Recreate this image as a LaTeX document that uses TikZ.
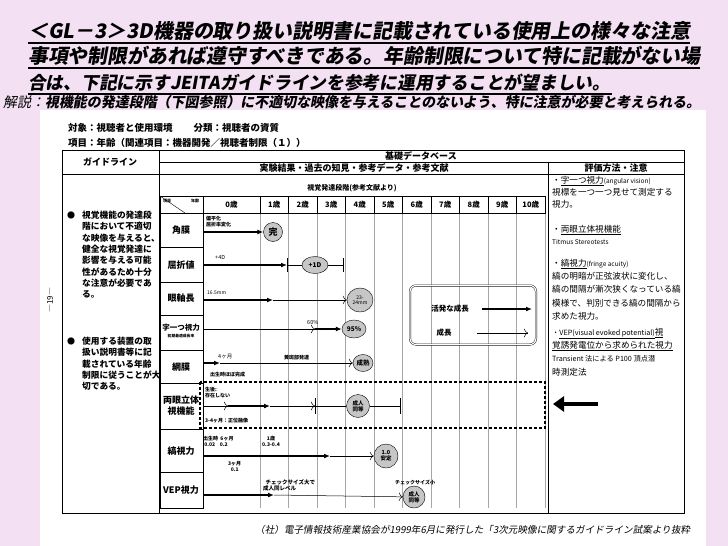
\documentclass[tikz,border=0pt]{standalone}
\usepackage{fontspec}
\setmainfont{Noto Sans CJK JP}
\newfontfamily\tit{Noto Sans CJK JP}[FakeSlant=0.18]
\usetikzlibrary{shapes.geometric,arrows.meta}
\definecolor{bgpink}{HTML}{F3E1F3}
\begin{document}
\begin{tikzpicture}[x=1pt,y=-1pt,
  tk/.style={line width=1.6pt,-{Latex[length=6pt,width=5pt]}},
  tn/.style={line width=0.5pt,-{To[length=4pt]}},
  bub/.style={ellipse,draw,fill=gray!45,inner sep=0.3pt,align=center,font=\fontsize{6.5}{6.5}\selectfont\bfseries},
  sm/.style={inner sep=0,anchor=west,font=\fontsize{5.5}{6}\selectfont},
  lab/.style={inner sep=0,align=center,font=\fontsize{9}{11}\selectfont\bfseries},
  ev/.style={inner sep=0,anchor=base west,font=\fontsize{8.6}{9}\selectfont},
  gl/.style={inner sep=0,anchor=base west,font=\fontsize{8.7}{11}\selectfont\bfseries},
  hd/.style={inner sep=0,font=\fontsize{9}{10}\selectfont\bfseries},
  ttl/.style={inner sep=0,anchor=base west,font=\fontsize{21}{22}\selectfont\tit\bfseries},
  tick/.style={line width=0.8pt}]
\useasboundingbox (0,0) rectangle (728,546);
\fill[bgpink] (0,0) rectangle (728,546);
\fill[white] (40,110) rectangle (706,546);
% title
\node[ttl] (t1) at (28,38) {\resizebox{662pt}{!}{＜GL－3＞3D機器の取り扱い説明書に記載されている使用上の様々な注意}};
\node[ttl] (t2) at (28,63) {\resizebox{672pt}{!}{事項や制限があれば遵守すべきである。年齢制限について特に記載がない場}};
\node[ttl] (t3) at (28,89) {\resizebox{582pt}{!}{合は、下記に示すJEITAガイドラインを参考に運用することが望ましい。}};
\draw[line width=1.3pt] (t1.base west)++(0,5) -- ++(662,0);
\draw[line width=1.3pt] (t2.base west)++(0,5) -- ++(672,0);
\draw[line width=1.3pt] (t3.base west)++(0,5) -- ++(584,0);
\node[inner sep=0,anchor=base west,font=\fontsize{14.5}{15}\selectfont\tit] (t4) at (3,107) {\resizebox{697pt}{!}{解説：{\bfseries 視機能の発達段階（下図参照）に不適切な映像を与えることのないよう、特に注意が必要と考えられる。}}};
% scan headings
\node[inner sep=0,anchor=base west,font=\fontsize{9.5}{10}\selectfont\bfseries] (h1) at (68,131) {対象：視聴者と使用環境\hspace{2.2em}分類：視聴者の資質};
\node[inner sep=0,anchor=base west,font=\fontsize{9.5}{10}\selectfont\bfseries] (h2) at (68,146) {項目：年齢（関連項目：機器開発／視聴者制限（１））};
% table
\draw[line width=1pt] (62,150) rectangle (684,513);
\draw[line width=0.8pt] (159,162) -- (684,162);
\draw[line width=0.8pt] (62,174) -- (684,174);
\draw[line width=0.8pt] (159,150) -- (159,513);
\draw[line width=0.8pt] (548,162) -- (548,513);
\node[hd] (c1) at (110,162) {ガイドライン};
\node[hd] (c2) at (421,156) {基礎データベース};
\node[hd] (c3) at (354,168) {実験結果・過去の知見・参考データ・参考文献};
\node[hd] (c4) at (616,168) {評価方法・注意};
% guideline text
\node[font=\fontsize{8}{8}\selectfont,inner sep=0] (b1) at (71,215) {●};
\foreach \t [count=\i from 0] in {視覚機能の発達段,階において不適切,な映像を与えると、,健全な視覚発達に,影響を与える可能,性があるため十分,な注意が必要であ,る。}
  \node[gl] at (82,218.5+11.3*\i) {\t};
\node[font=\fontsize{8}{8}\selectfont,inner sep=0] (b2) at (71,341) {●};
\foreach \t [count=\i from 0] in {使用する装置の取,扱い説明書等に記,載されている年齢,制限に従うことが大,切である。}
  \node[gl] at (82,344.5+11.3*\i) {\t};
\node[rotate=90,inner sep=0,font=\fontsize{8}{8}\selectfont] (pg) at (50,300) {―19―};
% evaluation text
\node[ev] at (552,183) {・\underline{字一つ視力}{\fontsize{6.5}{7}\selectfont(angular vision)}};
\node[ev] at (552,195) {視標を一つ一つ見せて測定する};
\node[ev] at (552,207) {視力。};
\node[ev] at (552,232) {・\underline{両眼立体視機能}};
\node[ev,font=\fontsize{6.5}{7}\selectfont] at (552,244) {Titmus Stereotests};
\node[ev] at (552,266) {・\underline{縞視力}{\fontsize{6.5}{7}\selectfont(fringe acuity)}};
\node[ev] at (552,279) {縞の明暗が正弦波状に変化し、};
\node[ev] at (552,292) {縞の間隔が漸次狭くなっている縞};
\node[ev] at (552,306) {模様で、判別できる縞の間隔から};
\node[ev] at (552,319) {求めた視力。};
\node[ev] at (552,335) {{\fontsize{7.2}{7}\selectfont・\underline{VEP(visual evoked potential)}}\underline{視}};
\node[ev] at (552,348) {\underline{覚誘発電位から求められた視力}};
\node[ev] at (552,361) {{\fontsize{7.2}{7}\selectfont Transient 法による P100 頂点潜}};
\node[ev] at (552,375) {時測定法};
% chart
\node[inner sep=0,font=\fontsize{7}{8}\selectfont\bfseries] (ct) at (352,188) {視覚発達段階(参考文献より)};
\foreach \x in {260,288.5,317,345.5,374,402.5,431,459.5,488,516.5,545}
  \draw[gray!70,line width=0.4pt] (\x,213) -- (\x,508);
\draw[line width=0.7pt] (160,196) rectangle (545,213);
\foreach \x in {203,260,288.5,317,345.5,374,402.5,431,459.5,488,516.5}
  \draw[line width=0.6pt] (\x,196) -- (\x,213);
\draw[line width=0.4pt] (160,196) -- (185,213);
\node[inner sep=0,font=\fontsize{4}{4}\selectfont\bfseries] (hk) at (167,201) {項目};
\node[inner sep=0,font=\fontsize{4}{4}\selectfont\bfseries] (hn) at (195,201) {年齢};
\node[hd,font=\fontsize{7.5}{8}\selectfont\bfseries] at (231.5,204.5) {0歳};
\foreach \x/\a in {274.25/1,302.75/2,331.25/3,359.75/4,388.25/5,416.75/6,445.25/7,473.75/8,502.25/9,530.75/10}
  \node[hd,font=\fontsize{7.5}{8}\selectfont\bfseries] at (\x,204.5) {\a 歳};
\draw[line width=0.7pt] (160,213) -- (160,508) -- (203,508) -- (203,213);
\foreach \y in {247,282,315,350,383,429,472}
  \draw[line width=0.7pt] (160,\y) -- (203,\y);
\node[lab] at (181,230) {角膜};
\node[lab] at (181,265) {屈折値};
\node[lab] at (181,298) {眼軸長};
\node[lab,font=\fontsize{7.5}{8}\selectfont\bfseries] at (181,328) {字一つ視力};
\node[inner sep=0,font=\fontsize{3.8}{4}\selectfont\bfseries] at (181,336) {初期最適成長率};
\node[lab] at (181,367) {網膜};
\node[lab] at (181,406) {両眼立体\\視機能};
\node[lab] at (181,451) {縞視力};
\node[lab] at (181,490) {VEP視力};
% row 角膜
\node[sm,font=\fontsize{5}{6}\selectfont\bfseries,align=left] at (206,222) {偏平化\\屈折率変化};
\coordinate (k0) at (203,232);
\node[bub,minimum width=19,minimum height=19,font=\fontsize{9}{9}\selectfont\bfseries] (kk) at (273,232) {完};
\draw[tk] (k0) -- (kk.west);
% row 屈折値
\node[sm] at (215,257) {+4D};
\coordinate (r0) at (203,265); \coordinate (r1) at (287,265); \coordinate (r2) at (343,265);
\node[bub,minimum width=26,minimum height=17] (rb) at (315,265) {+1D};
\draw[tk] (r0) -- (r1);
\draw (r1) -- (rb) (rb) -- (r2);
\draw[tick] ([yshift=7]r1) -- ([yshift=-7]r1);
\draw[tick] ([yshift=7]r2) -- ([yshift=-7]r2);
% row 眼軸長
\node[sm,font=\fontsize{5}{6}\selectfont] at (207,293) {16.5mm};
\coordinate (e0) at (203,300); \coordinate (e1) at (273,300);
\node[bub,minimum width=26,minimum height=24,font=\fontsize{5}{5.5}\selectfont] (eb) at (360,300) {23-\\24mm};
\draw[tk] (e0) -- (e1);
\draw[tn] (e1) -- (eb);
% row 字一つ視力
\node[sm] at (307,322) {60\%};
\coordinate (j0) at (203,329); \coordinate (j1) at (315,329);
\node[bub,minimum width=24,minimum height=18] (jb) at (354,329) {95\%};
\draw[tn] (j0) -- (j1);
\draw[tk] (j1) -- (jb);
% row 網膜
\node[sm] at (218,357) {4ヶ月};
\node[sm,font=\fontsize{5}{6}\selectfont\bfseries] at (284,358) {黄斑部発達};
\node[sm,font=\fontsize{5}{6}\selectfont\bfseries] at (210,375) {出生時ほぼ完成};
\coordinate (m0) at (203,363); \coordinate (m1) at (220,363);
\node[bub,minimum width=20,minimum height=17] (mb) at (363,363) {成熟};
\draw[tk] (m0) -- (m1);
\draw[tn] (m1) -- (mb);
% row 両眼立体視
\node[sm,font=\fontsize{5}{6}\selectfont\bfseries,align=left] at (205,393) {生後:\\存在しない};
\node[sm,font=\fontsize{5}{6}\selectfont\bfseries] at (205,421) {3-4ヶ月：正位融像};
\coordinate (s0) at (203,406); \coordinate (s1) at (228,406); \coordinate (s2) at (270,406);
\coordinate (s3) at (315,406); \coordinate (s4) at (400,406);
\node[bub,minimum width=23,minimum height=23,font=\fontsize{5.5}{6}\selectfont\bfseries] (sb) at (358,406) {成人\\同等};
\draw[tn] (s0) -- (s1);
\draw[tk] (s1) -- (s2);
\draw[tn] (s2) -- (s3);
\draw (s3) -- (sb) (sb) -- (s4);
\draw[tick] ([yshift=8]s3) -- ([yshift=-8]s3);
\draw[tick] ([yshift=8]s4) -- ([yshift=-8]s4);
\draw[line width=2.6pt,dash pattern=on 2.6pt off 2.4pt] (200,382) rectangle (545,428);
% row 縞視力
\node[sm,font=\fontsize{5}{6}\selectfont\bfseries,align=left] at (203,441) {出生時\ \ 6ヶ月\\ \ 0.02\ \ \ \ 0.2};
\node[sm,font=\fontsize{5}{6}\selectfont\bfseries,align=center] at (262,441) {1歳\\0.3-0.4};
\node[sm,font=\fontsize{5}{6}\selectfont\bfseries,align=center] at (228,467) {3ヶ月\\0.1};
\coordinate (h0) at (203,456); \coordinate (h1) at (330,456);
\node[bub,minimum width=24,minimum height=24,font=\fontsize{5.5}{6}\selectfont\bfseries] (hb) at (386,456) {1.0\\安定};
\draw[tk] (h0) -- (h1);
\draw[tn] (h1) -- (hb);
% row VEP
\node[sm,font=\fontsize{5.5}{6}\selectfont\bfseries,align=left] at (263,485) {\ \ チェックサイズ大で\\成人同レベル};
\node[sm,font=\fontsize{5}{6}\selectfont\bfseries] at (395,483) {チェックサイズ小};
\coordinate (v0) at (203,495); \coordinate (v1) at (274,495);
\node[bub,minimum width=22,minimum height=22,font=\fontsize{5.5}{6}\selectfont\bfseries] (vb) at (414,497) {成人\\同等};
\draw[tk] (v0) -- (v1);
\draw[tn] (v1) -- (vb);
% legend
\node[draw,double,double distance=1.2pt,rounded corners=6pt,minimum width=126,minimum height=59,inner sep=0] (leg) at (473,315) {};
\node[inner sep=0,font=\fontsize{7.5}{8}\selectfont\bfseries] (lg1) at (450,309) {活発な成長};
\node[inner sep=0,font=\fontsize{7.5}{8}\selectfont\bfseries] (lg2) at (444,333) {成長};
\coordinate (la0) at (482,309); \coordinate (la1) at (532,309);
\coordinate (lb0) at (477,333); \coordinate (lb1) at (528,333);
\draw[tk] (la0) -- (la1);
\draw[tn] (lb0) -- (lb1);
% big arrow
\coordinate (ba0) at (598,404); \coordinate (ba1) at (553,404);
\draw[line width=4.5pt,-{Triangle[length=11pt,width=15pt]}] (ba0) -- (ba1);
% footer
\node[inner sep=0,anchor=base west,font=\fontsize{9.3}{10}\selectfont\tit] (ft) at (255,533) {\resizebox{435pt}{!}{（社）電子情報技術産業協会が1999年6月に発行した「3次元映像に関するガイドライン試案より抜粋}};
\end{tikzpicture}
\end{document}
